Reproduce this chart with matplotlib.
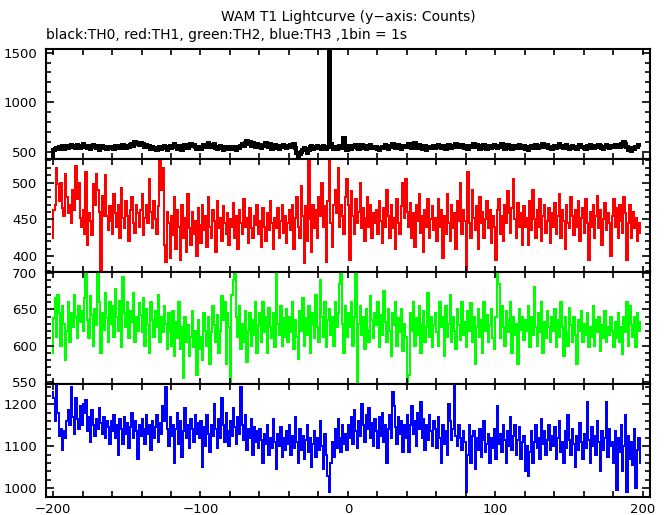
"""WAM T1 lightcurve - four stacked step panels (TH0..TH3), 1 s bins."""

import numpy as np
import matplotlib
matplotlib.use('Agg')
import matplotlib.pyplot as plt
from matplotlib.ticker import MultipleLocator, NullFormatter

plt.rcParams['font.family'] = ['DejaVu Sans']

# --- Data: counts per 1 s bin, bins start at t = -201 s ---
T_START = -201

th0_counts = [
    440, 515, 528, 540, 522, 548, 535, 556, 530, 545, 560, 538, 552, 570, 548, 560, 542, 566, 555, 538,
    552, 575, 548, 562, 540, 558, 530, 546, 564, 550, 535, 560, 520, 548, 556, 534, 545, 528, 552, 540,
    536, 548, 530, 555, 542, 560, 548, 538, 565, 552, 540, 558, 545, 570, 582, 560, 595, 578, 590, 572,
    585, 565, 578, 550, 568, 545, 555, 530, 548, 525, 540, 518, 535, 550, 528, 545, 560, 540, 515, 548,
    560, 538, 552, 575, 548, 530, 556, 542, 520, 546, 565, 552, 538, 560, 580, 555, 572, 548, 530, 552,
    540, 525, 552, 568, 545, 560, 590, 548, 570, 552, 575, 540, 528, 548, 560, 535, 520, 545, 538, 552,
    530, 548, 522, 545, 540, 515, 552, 538, 560, 580, 555, 590, 612, 575, 598, 560, 585, 570, 552, 575,
    548, 565, 540, 572, 555, 590, 560, 545, 578, 530, 552, 568, 540, 558, 530, 555, 545, 568, 550, 535,
    560, 545, 570, 552, 580, 540, 490, 455, 475, 500, 520, 540, 528, 490, 515, 545, 560, 532, 550, 540,
    555, 538, 548, 530, 556, 545, 528, 552, 1620, 575, 545, 532, 550, 528, 542, 556, 538, 548, 640, 540,
    520, 548, 555, 530, 560, 545, 572, 540, 528, 552, 565, 538, 548, 530, 556, 542, 570, 548, 535, 552,
    545, 528, 515, 538, 552, 540, 565, 558, 532, 548, 560, 575, 548, 538, 552, 565, 540, 530, 556, 545,
    560, 548, 575, 552, 538, 560, 585, 552, 540, 565, 548, 530, 545, 558, 520, 540, 552, 536, 548, 560,
    542, 555, 568, 548, 535, 558, 545, 530, 552, 566, 548, 538, 562, 550, 575, 548, 560, 545, 570, 552,
    540, 556, 532, 548, 562, 545, 580, 552, 568, 545, 530, 555, 540, 565, 548, 532, 552, 560, 538, 550,
    566, 548, 535, 560, 552, 578, 545, 530, 550, 565, 540, 556, 528, 545, 560, 552, 538, 565, 548, 540,
    555, 530, 545, 520, 548, 560, 540, 556, 572, 548, 535, 562, 550, 582, 558, 545, 568, 540, 552, 530,
    545, 560, 538, 552, 575, 548, 560, 536, 550, 565, 542, 528, 548, 560, 538, 552, 530, 548, 566, 545,
    552, 540, 530, 555, 545, 568, 540, 552, 535, 560, 548, 572, 556, 540, 528, 552, 566, 548, 538, 560,
    545, 558, 572, 548, 565, 552, 580, 560, 600, 575, 545, 520, 535, 510, 540, 528, 552, 545, 565, 572,
]

th1_counts = [
    425, 462, 470, 520, 498, 475, 500, 465, 455, 512, 480, 458, 470, 445, 490, 462, 522, 478, 500, 452,
    440, 462, 430, 515, 415, 458, 448, 428, 498, 470, 512, 490, 460, 380, 482, 455, 510, 455, 435, 468,
    448, 430, 485, 458, 440, 470, 425, 492, 452, 438, 475, 455, 420, 462, 480, 445, 432, 470, 458, 440,
    462, 485, 428, 452, 470, 445, 505, 460, 438, 475, 450, 430, 468, 532, 490, 520, 415, 392, 460, 445,
    398, 455, 428, 480, 410, 462, 440, 395, 470, 425, 452, 405, 485, 438, 415, 460, 430, 448, 400, 465,
    442, 418, 470, 435, 455, 412, 480, 440, 425, 462, 448, 405, 475, 438, 452, 420, 468, 445, 430, 458,
    415, 450, 440, 472, 425, 455, 410, 462, 445, 430, 478, 440, 452, 418, 465, 438, 425, 455, 442, 470,
    430, 448, 412, 465, 440, 420, 458, 435, 475, 445, 410, 452, 438, 465, 425, 448, 470, 432, 455, 418,
    445, 462, 435, 470, 410, 452, 480, 440, 425, 495, 455, 390, 468, 420, 530, 450, 405, 470, 438, 462,
    425, 480, 455, 500, 440, 468, 392, 475, 536, 445, 412, 470, 490, 458, 520, 440, 470, 455, 430, 480,
    505, 470, 395, 488, 455, 430, 478, 445, 460, 500, 438, 465, 420, 452, 480, 440, 470, 425, 458, 445,
    462, 430, 475, 448, 418, 465, 440, 490, 455, 425, 470, 438, 452, 410, 478, 445, 430, 468, 500, 452,
    505, 460, 440, 472, 425, 458, 412, 470, 448, 485, 432, 455, 405, 462, 440, 478, 425, 450, 468, 435,
    452, 420, 478, 440, 462, 398, 455, 430, 485, 445, 420, 470, 438, 458, 410, 475, 448, 500, 430, 462,
    448, 380, 515, 445, 425, 490, 452, 435, 468, 410, 480, 445, 460, 425, 450, 475, 438, 462, 418, 455,
    440, 395, 462, 478, 430, 455, 420, 470, 445, 488, 458, 432, 465, 505, 450, 425, 472, 440, 458, 415,
    468, 440, 452, 415, 475, 435, 490, 450, 425, 462, 440, 478, 420, 455, 470, 432, 448, 465, 418, 458,
    440, 472, 430, 455, 485, 425, 462, 448, 410, 470, 445, 438, 480, 455, 428, 462, 440, 475, 420, 452,
    465, 432, 478, 445, 395, 460, 440, 470, 425, 455, 482, 438, 462, 415, 450, 472, 435, 458, 445, 400,
    455, 478, 440, 465, 425, 470, 448, 432, 480, 458, 395, 445, 470, 425, 460, 438, 452, 420, 445, 432,
]

th2_counts = [
    590, 638, 665, 612, 670, 645, 600, 655, 630, 580, 620, 660, 605, 645, 625, 670, 640, 610, 655, 632,
    648, 620, 665, 700, 635, 610, 668, 642, 600, 650, 628, 700, 660, 590, 645, 622, 672, 638, 605, 660,
    630, 655, 612, 678, 640, 620, 662, 598, 695, 645, 625, 660, 610, 648, 632, 672, 605, 640, 620, 658,
    642, 618, 665, 600, 650, 628, 590, 660, 635, 612, 648, 625, 670, 605, 640, 618, 655, 630, 595, 645,
    620, 600, 648, 585, 632, 610, 660, 595, 625, 555, 640, 605, 628, 585, 612, 648, 598, 620, 560, 635,
    595, 612, 580, 645, 620, 600, 640, 575, 618, 655, 628, 605, 642, 590, 620, 668, 635, 660, 575, 645,
    625, 550, 670, 690, 700, 640, 612, 655, 595, 630, 605, 648, 578, 620, 645, 600, 635, 615, 660, 590,
    628, 645, 605, 660, 618, 640, 590, 652, 625, 610, 645, 598, 700, 630, 615, 655, 600, 638, 612, 650,
    605, 640, 618, 660, 595, 635, 612, 582, 648, 620, 665, 600, 638, 615, 655, 590, 628, 645, 610, 670,
    625, 605, 690, 640, 612, 660, 598, 635, 650, 615, 640, 600, 660, 625, 645, 685, 700, 630, 590, 655,
    612, 645, 625, 660, 600, 640, 700, 550, 630, 655, 615, 640, 595, 650, 622, 605, 668, 635, 610, 645,
    628, 660, 598, 642, 615, 675, 632, 605, 650, 620, 585, 645, 628, 660, 600, 638, 618, 650, 592, 630,
    612, 550, 560, 645, 620, 660, 600, 638, 615, 655, 590, 630, 648, 605, 625, 672, 612, 640, 598, 628,
    645, 618, 600, 660, 625, 640, 585, 655, 612, 630, 670, 605, 640, 620, 595, 650, 628, 608, 660, 615,
    632, 598, 648, 620, 658, 605, 640, 575, 625, 650, 612, 635, 590, 660, 620, 642, 605, 628, 650, 610,
    595, 640, 700, 685, 610, 655, 625, 600, 648, 618, 635, 660, 590, 640, 615, 630, 575, 650, 622, 640,
    608, 635, 620, 655, 598, 640, 615, 680, 625, 600, 645, 618, 660, 590, 632, 610, 648, 625, 605, 640,
    620, 650, 598, 635, 612, 660, 625, 585, 640, 618, 600, 652, 628, 605, 640, 615, 575, 635, 620, 648,
    605, 630, 615, 645, 598, 625, 612, 655, 600, 635, 618, 640, 592, 628, 610, 648, 605, 625, 615, 640,
    620, 598, 632, 610, 645, 605, 625, 588, 640, 618, 660, 600, 655, 628, 612, 640, 598, 645, 620, 632,
]

th3_counts = [
    1230, 1215, 1160, 1245, 1180, 1125, 1140, 1090, 1135, 1120, 1160, 1185, 1150, 1240, 1170, 1130, 1215, 1165, 1140, 1195,
    1150, 1200, 1180, 1210, 1135, 1170, 1110, 1185, 1150, 1125, 1165, 1140, 1190, 1155, 1130, 1170, 1120, 1160, 1145, 1105,
    1160, 1135, 1175, 1120, 1150, 1080, 1165, 1140, 1105, 1170, 1130, 1155, 1095, 1145, 1180, 1120, 1160, 1135, 1070, 1150,
    1125, 1165, 1140, 1105, 1175, 1130, 1150, 1090, 1160, 1120, 1145, 1175, 1110, 1155, 1130, 1195, 1160, 1240, 1140, 1100,
    1170, 1125, 1150, 1060, 1140, 1180, 1105, 1160, 1075, 1135, 1190, 1120, 1150, 1095, 1165, 1140, 1110, 1175, 1130, 1155,
    1120, 1160, 1050, 1145, 1100, 1175, 1130, 1085, 1150, 1125, 1200, 1140, 1095, 1165, 1120, 1215, 1150, 1110, 1180, 1135,
    1100, 1160, 1125, 1190, 1145, 1105, 1170, 1130, 1240, 1150, 1115, 1175, 1090, 1140, 1120, 1165, 1080, 1145, 1110, 1135,
    1095, 1140, 1115, 1060, 1130, 1105, 1150, 1080, 1120, 1095, 1165, 1110, 1045, 1130, 1100, 1145, 1075, 1120, 1090, 1135,
    1105, 1150, 1080, 1125, 1095, 1170, 1110, 1060, 1140, 1090, 1125, 1070, 1115, 1150, 1085, 1120, 1050, 1105, 1135, 1075,
    1120, 1090, 1160, 1100, 1045, 1130, 1080, 1030, 990, 1060, 1110, 1075, 1140, 1095, 1165, 1120, 1085, 1150, 1105, 1130,
    1090, 1150, 1120, 1170, 1105, 1185, 1135, 1095, 1160, 1125, 1200, 1150, 1110, 1175, 1140, 1190, 1120, 1155, 1100, 1165,
    1135, 1095, 1170, 1125, 1180, 1110, 1150, 1060, 1140, 1175, 1120, 1230, 1195, 1145, 1105, 1170, 1130, 1160, 1085, 1150,
    1120, 1175, 1085, 1150, 1195, 1130, 1160, 1100, 1180, 1140, 1205, 1120, 1165, 1090, 1150, 1115, 1175, 1135, 1100, 1160,
    1140, 1095, 1170, 1120, 1060, 1150, 1105, 1135, 1080, 1200, 1160, 1115, 1140, 1245, 1125, 1100, 1150, 1120, 1090, 1135,
    1110, 990, 1080, 1150, 1060, 1125, 1135, 1045, 1120, 1090, 1140, 1075, 1115, 1160, 1085, 1105, 1130, 1060, 1120, 1095,
    1140, 1070, 1195, 1105, 1130, 1085, 1150, 1115, 1060, 1135, 1100, 1170, 1090, 1125, 1150, 1080, 1115, 1145, 1070, 1110,
    1125, 1040, 1100, 1030, 1085, 1135, 1060, 1110, 1150, 1095, 1120, 1070, 1165, 1105, 1135, 1080, 1115, 1150, 1090, 1125,
    1100, 1145, 1070, 1120, 1160, 1085, 1110, 1060, 1135, 1095, 1175, 1115, 1080, 1140, 1105, 1050, 1125, 1090, 1155, 1110,
    1070, 1130, 1095, 1205, 1115, 1060, 1145, 1100, 1125, 1080, 1160, 1110, 1040, 1135, 1090, 1120, 1205, 1075, 1140, 1100,
    1110, 1060, 1135, 995, 1120, 1085, 1150, 1040, 1100, 1175, 990, 1125, 1070, 1110, 1055, 1140, 1000, 1090, 1120, 1060,
]

# --- Layout (pixels of a 669x515 canvas) ---
W, H = 669, 515
LEFT, RIGHT = 45.7, 650.0
PANEL_EDGES = [49, 159, 271.5, 384, 496.5]

# (series, colour, line width, ylim, major step, minor step)
PANELS = [
    (th0_counts, 'black', 1.6, (426, 1537), 500, 100),
    (th1_counts, '#ff0000', 1.4, (379, 532), 50, 10),
    (th2_counts, '#00ff00', 1.4, (547, 702), 50, 10),
    (th3_counts, '#0000ff', 1.4, (980, 1248), 100, 20),
]

fig = plt.figure(figsize=(W / 100, H / 100), dpi=100, facecolor='white')

for k, (counts, color, lw, ylim, major, minor) in enumerate(PANELS):
    top, bottom = PANEL_EDGES[k], PANEL_EDGES[k + 1]
    ax = fig.add_axes([LEFT / W, 1 - bottom / H, (RIGHT - LEFT) / W, (bottom - top) / H])

    edges = np.arange(T_START, T_START + len(counts) + 1)
    ax.stairs(counts, edges, baseline=None, color=color, linewidth=lw,
              antialiased=False)

    ax.set_xlim(-205, 205)
    ax.set_ylim(*ylim)

    ax.xaxis.set_major_locator(MultipleLocator(100))
    ax.xaxis.set_minor_locator(MultipleLocator(20))
    ax.yaxis.set_major_locator(MultipleLocator(major))
    ax.yaxis.set_minor_locator(MultipleLocator(minor))

    ax.tick_params(which='both', direction='in', top=True, right=True,
                   width=1.2, labelsize=9.5, colors='black')
    ax.tick_params(axis='y', which='major', length=6, pad=6)
    ax.tick_params(axis='y', which='minor', length=3.5)
    ax.tick_params(axis='x', which='both', length=4.5, pad=5)

    if k < len(PANELS) - 1:
        ax.xaxis.set_major_formatter(NullFormatter())

    for s in ax.spines.values():
        s.set_linewidth(1.5)

fig.text(348 / W, 1 - 17 / H, 'WAM T1 Lightcurve (y\u2212axis: Counts)',
         ha='center', va='center', fontsize=10)
fig.text(46 / W, 1 - 35 / H, 'black:TH0, red:TH1, green:TH2, blue:TH3 ,1bin = 1s',
         ha='left', va='center', fontsize=10)

fig.savefig('out.png', dpi=100, facecolor='white')
